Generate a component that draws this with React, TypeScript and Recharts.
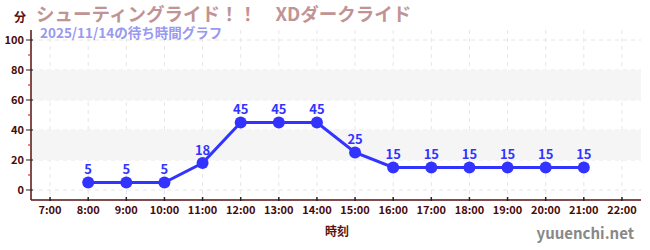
import {
  LineChart,
  Line,
  XAxis,
  YAxis,
  CartesianGrid,
  ReferenceArea,
  LabelList
} from "recharts";

const hours = [8, 9, 10, 11, 12, 13, 14, 15, 16, 17, 18, 19, 20, 21];
const waits = [5, 5, 5, 18, 45, 45, 45, 25, 15, 15, 15, 15, 15, 15];
const xTicks = [7, 8, 9, 10, 11, 12, 13, 14, 15, 16, 17, 18, 19, 20, 21, 22];
const yTicks = [0, 10, 20, 30, 40, 50, 60, 70, 80, 90, 100];
const bands = [
  [20, 40],
  [60, 80]
];

const title = "シューティングライド！！　XDダークライド";
const subtitle = "2025/11/14の待ち時間グラフ";

const FONT = '"Noto Sans CJK JP", "Noto Sans", sans-serif';
const AXIS = "#5a1010";

const data = hours.map((h, i) => ({ hour: h, wait: waits[i] }));

const YTick = (props: any) => {
  const { x, y, payload } = props;
  const v = payload.value;
  const major = v % 20 === 0;
  if (!major) {
    return <line x1={x + 3} x2={x + 5} y1={y} y2={y} stroke="#e00000" strokeWidth={1} />;
  }
  return (
    <g>
      <line x1={x + 1} x2={x + 8} y1={y} y2={y} stroke="#222" strokeWidth={1} />
      <text
        x={x - 1}
        y={y}
        dy={4}
        textAnchor="end"
        fill="#4a0a0a"
        fontSize={11}
        fontWeight="bold"
        fontFamily={FONT}
      >
        {v}
      </text>
    </g>
  );
};

export default function App() {
  return (
    <div style={{ position: "absolute", left: 0, top: 0, width: 650, height: 250, background: "#fff" }}>
      <LineChart
        width={650}
        height={250}
        data={data}
        margin={{ top: 30, right: 9, left: 0, bottom: 20 }}
      >
        {bands.map(([a, b]) => (
          <ReferenceArea key={a} y1={a} y2={b} fill="#f5f5f5" fillOpacity={1} stroke="none" ifOverflow="visible" />
        ))}
        <CartesianGrid
          strokeDasharray="4 4"
          stroke="#e6e6e6"
          horizontalValues={[0, 20, 40, 60, 80, 100]}
          verticalValues={xTicks}
        />
        <XAxis
          dataKey="hour"
          type="number"
          domain={[6.5, 22.5]}
          ticks={xTicks}
          tickFormatter={(v) => `${v}:00`}
          interval={0}
          height={30}
          stroke={AXIS}
          strokeWidth={1.5}
          tickSize={4}
          tick={{ fill: "#4a0a0a", fontSize: 11, fontWeight: "bold", fontFamily: FONT }}
          tickLine={{ stroke: "#222", transform: "translate(0,-3)" }}
        />
        <YAxis
          type="number"
          domain={[-6.67, 106.67]}
          ticks={yTicks}
          interval={0}
          width={31}
          stroke={AXIS}
          strokeWidth={1.5}
          tickLine={false}
          tickSize={4}
          tickMargin={2}
          tick={<YTick />}
        />
        <Line
          type="linear"
          dataKey="wait"
          stroke="#3333ff"
          strokeWidth={3}
          dot={{ r: 6, fill: "#3333ff", stroke: "#3333ff", strokeWidth: 0 }}
          isAnimationActive={false}
        >
          <LabelList
            dataKey="wait"
            position="top"
            offset={8}
            fill="#3333ff"
            fontSize={13}
            fontWeight="bold"
            fontFamily={FONT}
          />
        </Line>
        <text x={14} y={22} fill={AXIS} fontSize={12} fontWeight="bold" fontFamily={FONT}>
          分
        </text>
        <text x={36} y={21} fill="#c09494" fontSize={18.5} fontWeight="bold" fontFamily={FONT}>
          {title}
        </text>
        <text x={40} y={38} fill="#9999f0" fontSize={13.5} fontWeight="bold" fontFamily={FONT}>
          {subtitle}
        </text>
        <text x={337} y={236} textAnchor="middle" fill={AXIS} fontSize={12} fontWeight="bold" fontFamily={FONT}>
          時刻
        </text>
        <text x={634} y={239} textAnchor="end" fill="#888" fontSize={15} fontWeight="bold" fontFamily={FONT}>
          yuuenchi.net
        </text>
      </LineChart>
    </div>
  );
}
